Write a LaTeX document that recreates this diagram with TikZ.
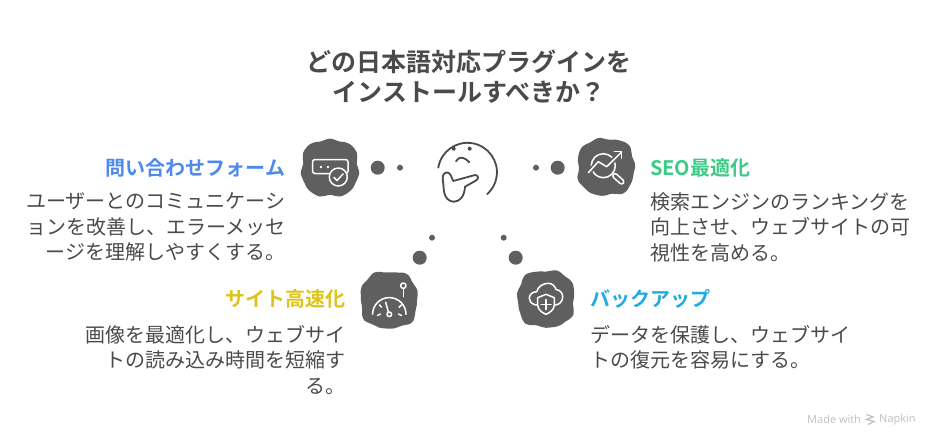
\documentclass[tikz,border=0pt]{standalone}
\usepackage{fontspec}
\setmainfont{Noto Sans CJK JP}[BoldFont=* Bold]
\newfontfamily\footfont{Open Sans}
\definecolor{inkgray}{HTML}{4A4A4A}
\definecolor{blobgray}{HTML}{5F5F5F}
\definecolor{headblue}{HTML}{4E8AEE}
\definecolor{headgreen}{HTML}{3CCB85}
\definecolor{headyellow}{HTML}{DDC41C}
\definecolor{headsky}{HTML}{20ACE0}
\newcommand{\blobat}[2]{\fill[blobgray,shift={(#1)}] plot[domain=0:350,samples=36,smooth cycle] (\x:{29.5-1.4*cos(4*\x)+0.9*sin(7*\x+#2)+0.5*sin(11*\x+2*#2)});}
\tikzset{
  headtext/.style={font=\fontsize{20}{24}\selectfont\bfseries,inner sep=0},
  bodytext/.style={font=\fontsize{20}{25.4}\selectfont,text=inkgray,inner sep=0},
  icon/.style={draw=white,line width=1.5pt,line cap=round,line join=round},
  face/.style={draw=inkgray,line width=1.8pt,line cap=round,line join=round}
}
\begin{document}
\begin{tikzpicture}[x=1pt,y=-1pt]
\useasboundingbox (0,0) rectangle (936,444);

\node[font=\fontsize{25}{30}\selectfont\bfseries,text=inkgray,align=center,inner sep=0] (title) at (469,77)
  {どの日本語対応プラグインを\\インストールすべきか？};

% thinking face
\draw[face] (438.3,167.7) arc[start angle=189,end angle=408,radius=29.5];
\fill[inkgray] (453.7,148.7) circle (2) (469.7,148.7) circle (2);
\draw[face] (456,161.3) .. controls (460,155.5) and (464,157) .. (469.3,162.3);
\draw[face] (453.3,181) .. controls (451.5,178) and (451,173.5) .. (448,172.6)
  .. controls (445,172) and (442.7,174) .. (442.7,178) -- (444,191.7)
  .. controls (445,198) and (449,201.7) .. (454,201.7)
  .. controls (460,201.7) and (464.5,196) .. (465,186.7) -- (476,180.5)
  .. controls (479,179) and (478.5,175) .. (475,175) -- cycle;

% dots
\fill[blobgray] (377.7,167.7) circle (7) (400,167.7) circle (3);
\fill[blobgray] (557.7,167.7) circle (7) (536,167.7) circle (3);
\fill[blobgray] (419.7,257.7) circle (7) (432,237.7) circle (3);
\fill[blobgray] (515.7,257.7) circle (7) (503.7,237.7) circle (3);

% blobs
\blobat{330,168}{0}
\blobat{606,167}{80}
\blobat{389,300}{160}
\blobat{546,299}{240}

% form icon
\draw[icon,rounded corners=2.5pt] (312.5,159.5) rectangle (348,173.5);
\fill[white] (321,167) circle (1.4) (328,167) circle (1.4);
\draw[icon,fill=blobgray] (338.3,177) circle (9);
\draw[icon] (334,177.5) -- (337,180.5) -- (343,174);

% chart icon
\draw[icon] (603.3,165.7) circle (12);
\draw[blobgray,line width=5pt] (590,171) -- (598.3,161.7) -- (606.7,166.7) -- (618,155.5);
\draw[icon] (588.3,172.7) -- (598.3,161.7) -- (606.7,166.7) -- (621.7,152);
\draw[icon] (614.3,151.7) -- (621.7,151.7) -- (621.7,158.3);
\draw[icon,rounded corners=2.5pt] (611.8,176) -- (614.8,172.6) -- (624.8,181.6) -- (621.8,185) -- cycle;

% gauge icon
\draw[icon] (372.6,314.3) arc[start angle=180,end angle=360,radius=16.7];
\draw[icon] (389.3,314.3) circle (2.3);
\draw[icon] (388.3,311.8) -- (385.7,302.3);
\draw[icon] (377.5,315.5) -- (380.5,314);
\draw[icon] (379.5,305) -- (381.5,307.2);
\draw[icon] (399,307.2) -- (401.5,305);
\draw[icon] (398.5,314) -- (401.5,315.5);
\draw[icon] (403.3,288.4) -- (403.3,296.7);
\draw[icon] (403.3,285.7) circle (2.7);

% cloud icon
\draw[icon] (538.3,305) -- (535,304.8) .. controls (531,303.5) and (529.3,301) .. (529.3,298.3)
  .. controls (529.3,294.5) and (532.5,291.7) .. (536.7,291.7)
  .. controls (538,286.5) and (543,283.3) .. (548.3,283.3)
  .. controls (552,283.3) and (555,286) .. (556,289.5)
  .. controls (560,290) and (562.7,293) .. (562.7,297)
  .. controls (562.7,301.5) and (559,305) .. (555,305);
\draw[icon,fill=blobgray] (537.7,297.7) -- (546,294.3) -- (554.3,297.7) -- (554.3,305)
  .. controls (554.3,309.5) and (550,312.7) .. (546,314.3)
  .. controls (542,312.7) and (537.7,309.5) .. (537.7,305) -- cycle;
\draw[icon] (541,304.5) -- (551,304.5) (546,299.5) -- (546,309.5);

% labels
\node[headtext,text=headblue,anchor=east] (formhead) at (285.5,168) {問い合わせフォーム};
\node[bodytext,align=right,anchor=east] (formbody) at (285.5,227)
  {ユーザーとのコミュニケーシ\\ョンを改善し、エラーメッセ\\ージを理解しやすくする。};
\node[headtext,text=headgreen,anchor=west] (seohead) at (650,168) {SEO最適化};
\node[bodytext,align=left,anchor=west] (seobody) at (650,227)
  {検索エンジンのランキングを\\向上させ、ウェブサイトの可\\視性を高める。};
\node[headtext,text=headyellow,anchor=east] (speedhead) at (345.5,299) {サイト高速化};
\node[bodytext,align=right,anchor=east] (speedbody) at (345.5,360)
  {画像を最適化し、ウェブサイ\\トの読み込み時間を短縮す\\る。};
\node[headtext,text=headsky,anchor=west] (backhead) at (590,299) {バックアップ};
\node[bodytext,align=left,anchor=west] (backbody) at (590,347.5)
  {データを保護し、ウェブサイ\\トの復元を容易にする。};

% footer
\node[font=\fontsize{11}{14}\footfont,text=black!25,inner sep=0,anchor=west] (madewith) at (807,419.5) {Made with};
\node[font=\fontsize{11}{14}\footfont,text=black!25,inner sep=0,anchor=west] (napkin) at (879,419.5) {Napkin};
\draw[black!25,line width=1.2pt] (866.5,414.5) -- (873,417) -- (866.5,419.5) -- (874,421.5) -- (868,424.5);
\end{tikzpicture}
\end{document}
